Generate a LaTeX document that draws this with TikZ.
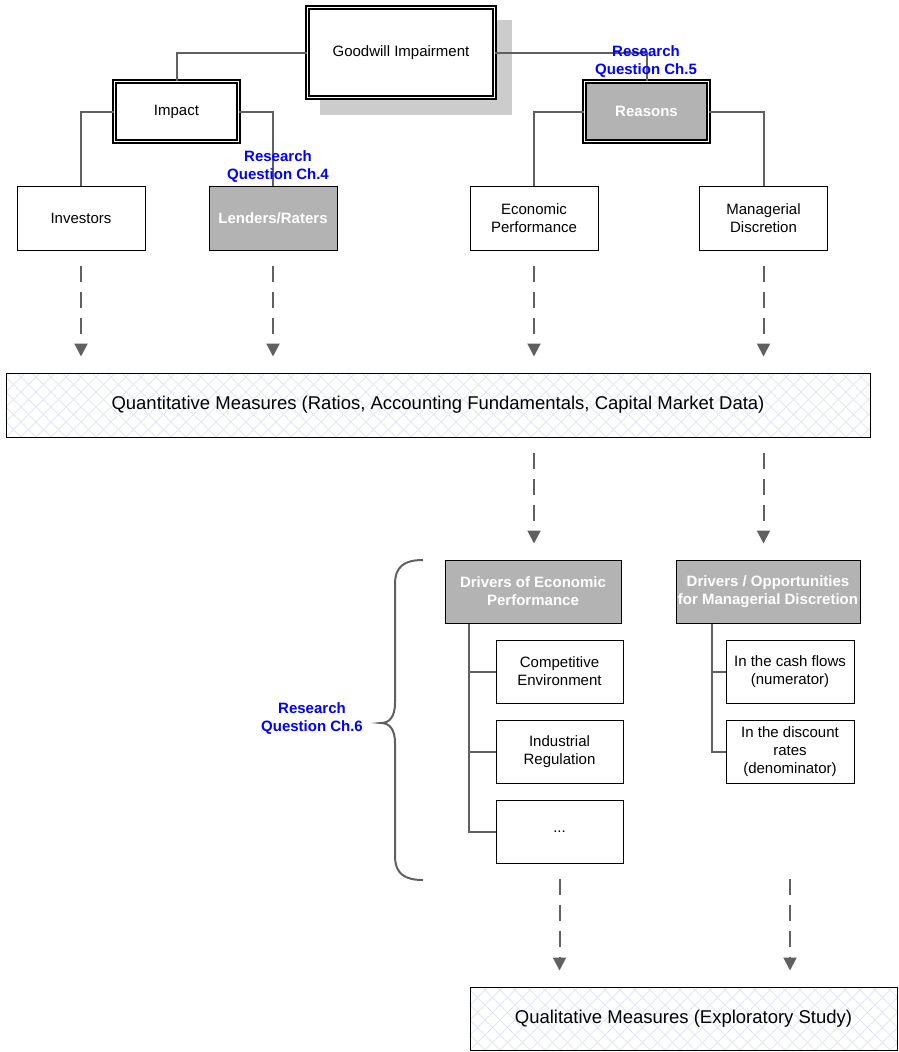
\documentclass[tikz,border=0pt]{standalone}
\usepackage{fontspec}
\setmainfont{Liberation Sans}
\usetikzlibrary{arrows.meta,shadows}

\definecolor{lineGray}{RGB}{96,96,96}
\definecolor{boxGray}{RGB}{179,179,179}
\definecolor{shadowGray}{RGB}{204,204,204}
\definecolor{hatchBlue}{RGB}{226,231,242}

\tikzset{
  box/.style={draw=black, line width=1pt, fill=white, align=center, inner sep=1pt,
    minimum width=128pt, minimum height=64pt, font=\fontsize{15}{18}\selectfont},
  grayBox/.style={box, fill=boxGray, text=white, font=\fontsize{15}{18}\selectfont\bfseries},
  doubleBox/.style={line width=1.2pt, double=white, double distance=1.8pt},
  conn/.style={draw=lineGray, line width=2pt},
  flow/.style={draw=lineGray, line width=2pt, dash pattern=on 16pt off 10pt,
    -{Triangle[width=13pt,length=13pt]}, shorten <=15pt, shorten >=16pt},
  question/.style={text=blue, align=center, font=\fontsize{15}{18}\selectfont\bfseries},
  hatchLine/.style={draw=hatchBlue, line width=1pt},
  hatched/.style={path picture={
    \foreach \k in {-6,...,63}{
      \draw[hatchLine] ([xshift=\k*15pt]path picture bounding box.south west) -- ++(70pt,70pt);
      \draw[hatchLine] ([xshift=\k*15pt]path picture bounding box.south west) -- ++(-70pt,70pt);
    }}},
  measureBox/.style={box, hatched, font=\fontsize{18.5}{22}\selectfont}
}

\begin{document}
\begin{tikzpicture}[x=1pt, y=-1pt]
    \useasboundingbox (0,0) rectangle (898,1052);

    %%% top of the tree %%%
    \node[box, doubleBox, minimum width=187pt, minimum height=90pt,
      general shadow={fill=shadowGray, draw=shadowGray, line width=4.2pt, shadow xshift=15pt, shadow yshift=-15pt}]
      (goodwill) at (401,52.5) {Goodwill Impairment};
    \node[box, doubleBox, minimum width=124pt, minimum height=60pt] (impact) at (176.5,111.5) {Impact};
    \node[grayBox, doubleBox, minimum width=124pt, minimum height=60pt] (reasons) at (646.5,111.5) {Reasons};

    % second row
    \node[box] (investors) at (81,218) {Investors};
    \node[grayBox] (lendersRaters) at (273,218) {Lenders/Raters};
    \node[box] (econPerf) at (534,218) {Economic\\Performance};
    \node[box] (managDisc) at (763.5,218) {Managerial\\Discretion};

    \draw[conn] (goodwill.west) -| (impact.north);
    \draw[conn] (goodwill.east) -| (reasons.north);
    \draw[conn] (impact.west) -| (investors.north);
    \draw[conn] (impact.east) -| (lendersRaters.north);
    \draw[conn] (reasons.west) -| (econPerf.north);
    \draw[conn] (reasons.east) -| (managDisc.north);

    %%% quantitative part %%%
    \node[measureBox, minimum width=864pt, minimum height=64pt] (quantMeasures) at (438,405)
      {Quantitative Measures (Ratios, Accounting Fundamentals, Capital Market Data)};

    \foreach \src in {investors, lendersRaters, econPerf, managDisc}
      \draw[flow] (\src.south) -- (\src.south |- quantMeasures.north);

    %%% drivers %%%
    \node[grayBox, minimum width=176pt, minimum height=63pt] (driversEcon) at (533,591.5)
      {Drivers of Economic\\Performance};
    \node[grayBox, minimum width=184pt, minimum height=63pt] (driversManag) at (768,591.5)
      {Drivers / Opportunities\\for Managerial Discretion};

    \draw[flow] (econPerf |- quantMeasures.south) -- (econPerf |- driversEcon.north);
    \draw[flow] (managDisc |- quantMeasures.south) -- (managDisc |- driversManag.north);

    \node[box, minimum width=127pt, minimum height=63pt] (compEnv) at (559.5,671.5) {Competitive\\Environment};
    \node[box, minimum width=127pt, minimum height=63pt] (indReg) at (559.5,751.5) {Industrial\\Regulation};
    \node[box, minimum width=127pt, minimum height=63pt] (moreDrivers) at (559.5,831.5) {...};
    \node[box, minimum width=128pt, minimum height=63pt] (cashFlows) at (790,671.5) {In the cash flows\\(numerator)};
    \node[box, minimum width=128pt, minimum height=63pt] (discRates) at (790,751.5) {In the discount\\rates\\(denominator)};

    % branch lines
    \coordinate (econTrunk) at ([xshift=24pt]driversEcon.south west);
    \coordinate (managTrunk) at ([xshift=36pt]driversManag.south west);
    \foreach \leaf in {compEnv, indReg, moreDrivers}
      \draw[conn] (econTrunk) |- (\leaf.west);
    \foreach \leaf in {cashFlows, discRates}
      \draw[conn] (managTrunk) |- (\leaf.west);

    % brace
    \draw[conn] (423,560) .. controls (405,560) and (395,566) .. (395,584)
      -- (395,703) .. controls (395,716) and (390,723) .. (381,723)
      .. controls (390,723) and (395,730) .. (395,743)
      -- (395,856) .. controls (395,874) and (405,880) .. (423,880);

    %%% qualitative part %%%
    \node[measureBox, minimum width=427pt, minimum height=63pt] (qualMeasures) at (683.5,1018.5)
      {Qualitative Measures (Exploratory Study)};

    \draw[flow] (moreDrivers.south) -- (moreDrivers.south |- qualMeasures.north);
    \draw[flow] (cashFlows |- moreDrivers.south) -- (cashFlows |- qualMeasures.north);

    %%% research questions %%%
    \node[question] (rqFour) at (278,167) {Research\\Question Ch.4};
    \node[question] (rqFive) at (646,62) {Research\\Question Ch.5};
    \node[question] (rqSix) at (312,719) {Research\\Question Ch.6};
\end{tikzpicture}
\end{document}
